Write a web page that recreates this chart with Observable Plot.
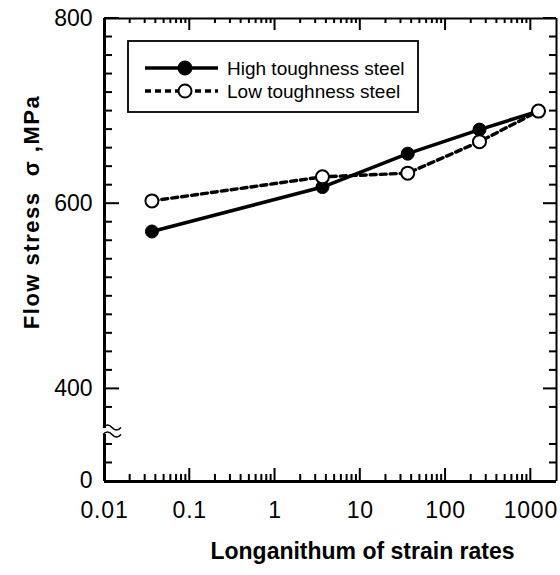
<!DOCTYPE html>
<html><head><meta charset="utf-8">
<script src="https://cdn.jsdelivr.net/npm/d3@7"></script>
<script src="https://cdn.jsdelivr.net/npm/@observablehq/plot@0.6"></script>
<style>
body{margin:0;background:#fff}
svg{font-family: Arial, "Liberation Sans", Helvetica, sans-serif}
</style>
</head><body><div id="chart"></div>
<script>
// ---- data ----
const strainRates   = [0.036, 3.6, 36, 250, 1230];
const highToughness = [570, 618, 654, 680, 700];
const lowToughness  = [603, 629, 633, 667, 700];
const seriesNames   = ["High toughness steel", "Low toughness steel"];
const xMajorTicks   = [0.01, 0.1, 1, 10, 100, 1000];
const xTickLabels   = ["0.01", "0.1", "1", "10", "100", "1000"];
const yMajorTicks   = [300, 400, 600, 800];
const yTickLabels   = ["0", "400", "600", "800"];
const yBreakValue   = 354;
const xDomain       = [0.01, 2000];
const yDomain       = [300, 800];
const xLabel = "Longanithum of strain rates";
const yLabel = "Flow stress\u00a0\u00a0σ\u00a0,MPa";

const high = strainRates.map((x, i) => ({x, y: highToughness[i]}));
const low  = strainRates.map((x, i) => ({x, y: lowToughness[i]}));
const xMinor = d3.scaleLog().domain(xDomain).ticks().filter(t => !xMajorTicks.includes(t) && t < xDomain[1]);
const yAllTicks = d3.range(yDomain[0], yDomain[1] + 1, 20).filter(t => Math.abs(t - yBreakValue) > 10);
const yMinor = yAllTicks.filter(t => !yMajorTicks.includes(t));
const xLab = new Map(xMajorTicks.map((t, i) => [t, xTickLabels[i]]));
const yLab = new Map(yMajorTicks.map((t, i) => [t, yTickLabels[i]]));

function ticksMark(index, scales, values, dim) {
  const g = d3.create("svg:g").attr("stroke", "black").attr("stroke-width", 2).attr("fill", "none");
  const L = dim.marginLeft, R = dim.width - dim.marginRight;
  const T = dim.marginTop, B = dim.height - dim.marginBottom;
  const seg = (x1, y1, x2, y2) => g.append("line").attr("x1", x1).attr("y1", y1).attr("x2", x2).attr("y2", y2);
  for (const t of xMinor) { const p = scales.x(t); seg(p, B, p, B - 7); seg(p, T, p, T + 5); }
  for (const t of xMajorTicks) { const p = scales.x(t); seg(p, B, p, B - 13); seg(p, T, p, T + 12); }
  for (const t of yMinor) { const p = scales.y(t); seg(L, p, L + 8, p); seg(R, p, R - 7, p); }
  for (const t of yMajorTicks) { const p = scales.y(t); seg(L, p, L + 15, p); seg(R, p, R - 13, p); }
  return g.node();
}

function breakMark(index, scales, values, dim) {
  const g = d3.create("svg:g");
  const x0 = dim.marginLeft, y0 = scales.y(yBreakValue);
  g.append("rect").attr("x", x0 - 4).attr("y", y0 - 3).attr("width", 8).attr("height", 6).attr("fill", "white");
  for (const dy of [-3.5, 3.5]) {
    g.append("path")
      .attr("d", `M${x0 - 1},${y0 + dy} q4.5,-5 9,0 t9,0`)
      .attr("fill", "none").attr("stroke", "black").attr("stroke-width", 1.6);
  }
  return g.node();
}

function legendMark(index, scales, values, dim) {
  const g = d3.create("svg:g");
  const bx = 128, by = 41, bw = 290, bh = 71;
  g.append("rect").attr("x", bx).attr("y", by).attr("width", bw).attr("height", bh)
    .attr("fill", "white").attr("stroke", "black").attr("stroke-width", 1.8);
  const rows = [by + 27, by + 50];
  seriesNames.forEach((name, i) => {
    const y = rows[i];
    g.append("line").attr("x1", 145).attr("x2", 218).attr("y1", y).attr("y2", y)
      .attr("stroke", "black").attr("stroke-width", 3.3)
      .attr("stroke-dasharray", i ? "6,4" : null);
    g.append("circle").attr("cx", 185).attr("cy", y).attr("r", 6.5)
      .attr("fill", i ? "white" : "black").attr("stroke", "black").attr("stroke-width", 2);
    g.append("text").attr("x", 227).attr("y", y).attr("dy", "0.35em")
      .attr("text-anchor", "start").attr("font-size", 19).text(name);
  });
  return g.node();
}

const chart = Plot.plot({
  width: 560, height: 575,
  marginLeft: 104, marginRight: 4, marginTop: 18, marginBottom: 94,
  x: {type: "log", domain: xDomain},
  y: {domain: yDomain},
  marks: [
    ticksMark,
    // frame
    Plot.ruleX([xDomain[0]], {strokeWidth: 3}),
    Plot.ruleX([xDomain[1]], {strokeWidth: 2}),
    Plot.ruleY([yDomain[0]], {strokeWidth: 3}),
    Plot.ruleY([yDomain[1]], {strokeWidth: 2}),
    breakMark,
    // axis labels
    Plot.axisX({ticks: xMajorTicks, tickFormat: d => xLab.get(d), tickSize: 0, tickPadding: 20, fontSize: 23, label: null}),
    Plot.axisY({ticks: yMajorTicks, tickFormat: d => yLab.get(d), tickSize: 0, tickPadding: 12, fontSize: 23, label: null}),
    Plot.text([xLabel], {frameAnchor: "bottom", textAnchor: "middle", dx: 32, dy: 77, fontSize: 23, fontWeight: "bold"}),
    Plot.text([yLabel], {frameAnchor: "left", textAnchor: "middle", rotate: -90, dx: -73, dy: -38, fontSize: 22, fontWeight: "bold"}),
    // data
    Plot.line(high, {x: "x", y: "y", stroke: "black", strokeWidth: 3.5}),
    Plot.line(low, {x: "x", y: "y", stroke: "black", strokeWidth: 3.4, strokeDasharray: "6,4"}),
    Plot.dot(high, {x: "x", y: "y", r: 6.5, fill: "black", stroke: "black", strokeWidth: 1}),
    Plot.dot(low, {x: "x", y: "y", r: 6.5, fill: "white", stroke: "black", strokeWidth: 2}),
    legendMark
  ]
});
document.getElementById("chart").appendChild(chart);
d3.select(chart).selectAll("text").each(function() {
  const t = this.textContent;
  if (t === yLabel) this.setAttribute("letter-spacing", "1.5px");
  if (xTickLabels.includes(t) && this.closest("g[aria-label='x-axis tick label']")) this.setAttribute("letter-spacing", "0.8px");
  if (t === "0" && this.closest("g[aria-label='y-axis tick label']")) this.setAttribute("dy", "-0.05em");
});
</script>
</body></html>
